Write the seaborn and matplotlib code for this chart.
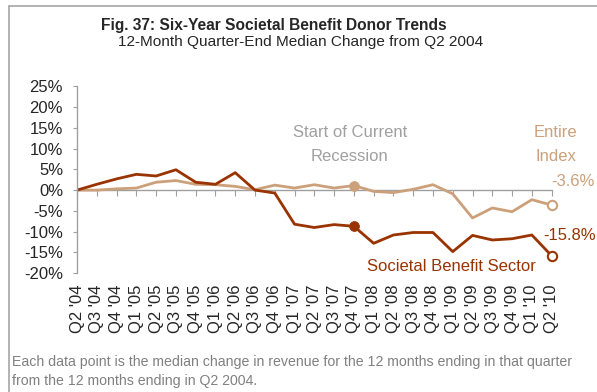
import numpy as np
import pandas as pd
import matplotlib
matplotlib.use('Agg')
import matplotlib.pyplot as plt
import seaborn as sns
from matplotlib.lines import Line2D

quarters = ["Q2 '04", "Q3 '04", "Q4 '04", "Q1 '05", "Q2 '05", "Q3 '05", "Q4 '05",
            "Q1 '06", "Q2 '06", "Q3 '06", "Q4 '06", "Q1 '07", "Q2 '07", "Q3 '07",
            "Q4 '07", "Q1 '08", "Q2 '08", "Q3 '08", "Q4 '08", "Q1 '09", "Q2 '09",
            "Q3 '09", "Q4 '09", "Q1 '10", "Q2 '10"]
societal = [0, 1.4, 2.7, 3.8, 3.4, 4.9, 1.9, 1.4, 4.2, 0.0, -0.7, -8.2, -9.0, -8.3,
            -8.7, -12.8, -10.8, -10.2, -10.2, -14.8, -10.9, -12.0, -11.7, -10.8, -15.8]
entire = [0, 0.0, 0.3, 0.5, 1.9, 2.3, 1.4, 1.3, 0.9, 0.1, 1.2, 0.5, 1.3, 0.5,
          1.1, -0.3, -0.6, 0.2, 1.3, -0.9, -6.7, -4.3, -5.2, -2.3, -3.6]
recession_idx = 14
last_idx = len(quarters) - 1

dark = '#993300'
light = '#CCA07A'
grey = '#A0A0A0'

df = pd.DataFrame({'q': np.arange(len(quarters)), 'societal': societal, 'entire': entire})

sns.set_style('white')
plt.rcParams['font.family'] = ['Liberation Sans', 'DejaVu Sans']

fig = plt.figure(figsize=(5.97, 3.92), dpi=100)
ax = fig.add_axes([0.129, 0.303, 0.795, 0.477])

sns.lineplot(data=df, x='q', y='entire', color=light, linewidth=2.0, ax=ax)
sns.lineplot(data=df, x='q', y='societal', color=dark, linewidth=2.0, ax=ax)

# recession markers (filled) and end markers (open)
rec = df.iloc[[recession_idx]]
end = df.iloc[[last_idx]]
sns.scatterplot(data=rec, x='q', y='entire', color=light, s=50, edgecolor=light, zorder=5, ax=ax)
sns.scatterplot(data=rec, x='q', y='societal', color=dark, s=50, edgecolor=dark, zorder=5, ax=ax)
sns.scatterplot(data=end, x='q', y='entire', color='white', s=45, edgecolor=light,
                linewidth=1.5, zorder=5, clip_on=False, ax=ax)
sns.scatterplot(data=end, x='q', y='societal', color='white', s=45, edgecolor=dark,
                linewidth=1.5, zorder=5, clip_on=False, ax=ax)

ax.set_xlim(0, last_idx)
ax.set_ylim(-20, 25)
ax.set_yticks(np.arange(-20, 26, 5))
ax.set_yticklabels([f'{v}%' for v in range(-20, 26, 5)], fontsize=12)
ax.set_xticks(df['q'])
ax.set_xticklabels(quarters, rotation=90, fontsize=12)
ax.tick_params(axis='x', length=0, pad=8)
ax.tick_params(axis='y', length=3, color=grey, direction='out', pad=7, left=True)
ax.set_xlabel('')
ax.set_ylabel('')
for s in ['top', 'right', 'bottom']:
    ax.spines[s].set_visible(False)
ax.spines['left'].set_color(grey)
ax.spines['left'].set_linewidth(1.0)

# zero line with ticks
zx = ax.secondary_xaxis(0, transform=ax.transData)
zx.set_xticks(df['q'])
zx.set_xticklabels([])
zx.tick_params(length=4, color=grey, direction='out')
zx.spines['bottom'].set_color(grey)
zx.spines['bottom'].set_linewidth(1.0)

ax.text(13.8, 11.0, 'Start of Current\nRecession', color=grey, fontsize=12,
        ha='center', va='center', linespacing=1.75)
ax.text(24.2, 11.0, 'Entire\nIndex', color=light, fontsize=12,
        ha='center', va='center', linespacing=1.75)
ax.text(25.1, 2.0, '-3.6%', color=light, fontsize=12, ha='center', va='center')
ax.text(24.9, -11.0, '-15.8%', color=dark, fontsize=12, ha='center', va='center')
ax.text(18.95, -18.4, 'Societal Benefit Sector', color=dark, fontsize=12,
        ha='center', va='center')

fig.text(0.458, 0.936, 'Fig. 37: Six-Year Societal Benefit Donor Trends',
         fontsize=11.2, fontweight='bold', ha='center', va='center')
fig.text(0.503, 0.892, '12-Month Quarter-End Median Change from Q2 2004',
         fontsize=11.1, ha='center', va='center')
fig.text(0.02, 0.052, 'Each data point is the median change in revenue for the 12 months ending in that quarter\nfrom the 12 months ending in Q2 2004.',
         fontsize=10.2, color='#808080', ha='left', va='center', linespacing=1.45)

# frame lines (left and top)
fig.add_artist(Line2D([0.015, 0.015], [0, 0.985], transform=fig.transFigure, color='#A6A6A6', linewidth=1.2))
fig.add_artist(Line2D([0.015, 1.0], [0.985, 0.985], transform=fig.transFigure, color='#A6A6A6', linewidth=1.2))

fig.savefig('out.png', dpi=100)
